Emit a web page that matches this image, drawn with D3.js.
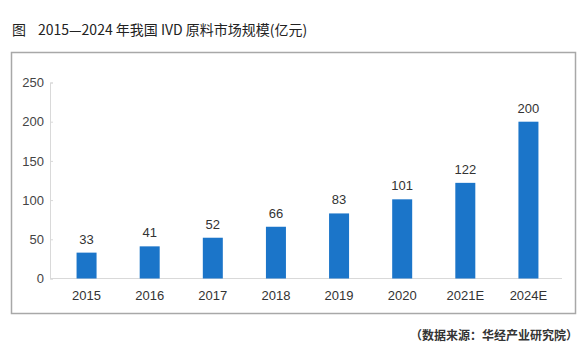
<!DOCTYPE html>
<html>
<head>
<meta charset="utf-8">
<script src="https://cdn.jsdelivr.net/npm/d3@7"></script>
<style>
  body { margin: 0; background: #fff; }
  svg text { font-family: "Liberation Sans", Arial, "Noto Sans CJK SC", sans-serif; }
  .cjk { font-family: "Noto Sans CJK SC", sans-serif; }
</style>
</head>
<body>
<svg id="svg" width="585" height="362"></svg>
<script>
var years = ["2015", "2016", "2017", "2018", "2019", "2020", "2021E", "2024E"];
var values = [33, 41, 52, 66, 83, 101, 122, 200];
var yTicks = [0, 50, 100, 150, 200, 250];

var svg = d3.select('#svg');

// title
svg.append('text').attr('class', 'cjk')
    .attr('x', 12).attr('y', 35)
    .attr('font-size', 14).attr('fill', '#222')
    .text('图');
svg.append('text').attr('class', 'cjk')
    .attr('x', 38).attr('y', 35)
    .attr('font-size', 14).attr('fill', '#222')
    .text('2015—2024 年我国 IVD 原料市场规模(亿元)');

// frame
svg.append('rect')
    .attr('x', 11.5).attr('y', 52.5)
    .attr('width', 564).attr('height', 261)
    .attr('fill', 'none').attr('stroke', '#a8a8a8').attr('stroke-width', 1.5);

var x = d3.scaleBand().domain(years).range([55, 560]);
var y = d3.scaleLinear().domain([0, 250]).range([278.5, 82.5]);
var barW = 20;

// y axis
var yAxis = svg.append('g').attr('transform', 'translate(50,0)')
    .call(d3.axisLeft(y).tickValues(yTicks).tickSize(-3).tickPadding(6));
yAxis.select('.domain').attr('stroke', '#d9d9d9');
yAxis.selectAll('.tick line').attr('stroke', '#d9d9d9');
yAxis.selectAll('text').attr('font-size', 13).attr('fill', '#444')
    .attr('font-family', '"Liberation Sans", Arial, sans-serif');

// x baseline
svg.append('line')
    .attr('x1', 50).attr('x2', 562)
    .attr('y1', y(0)).attr('y2', y(0))
    .attr('stroke', '#d9d9d9').attr('stroke-width', 1);

// bars
svg.selectAll('.bar').data(values).enter().append('rect')
    .attr('class', 'bar')
    .attr('x', function (d, i) { return x(years[i]) + x.bandwidth() / 2 - barW / 2; })
    .attr('y', function (d) { return y(d); })
    .attr('width', barW)
    .attr('height', function (d) { return y(0) - y(d); })
    .attr('fill', '#1b75c9');

// value labels
svg.selectAll('.val').data(values).enter().append('text')
    .attr('class', 'val')
    .attr('x', function (d, i) { return x(years[i]) + x.bandwidth() / 2; })
    .attr('y', function (d) { return y(d) - 9; })
    .attr('text-anchor', 'middle')
    .attr('font-size', 13).attr('fill', '#333')
    .text(function (d) { return d; });

// x labels
svg.selectAll('.xl').data(years).enter().append('text')
    .attr('class', 'xl')
    .attr('x', function (d) { return x(d) + x.bandwidth() / 2; })
    .attr('y', 300)
    .attr('text-anchor', 'middle')
    .attr('font-size', 13).attr('fill', '#333')
    .text(function (d) { return d; });

// source
svg.append('text').attr('class', 'cjk')
    .attr('x', 578).attr('y', 340)
    .attr('text-anchor', 'end')
    .attr('font-size', 12).attr('font-weight', 'bold').attr('fill', '#333')
    .text('（数据来源：华经产业研究院）');
</script>
</body>
</html>
